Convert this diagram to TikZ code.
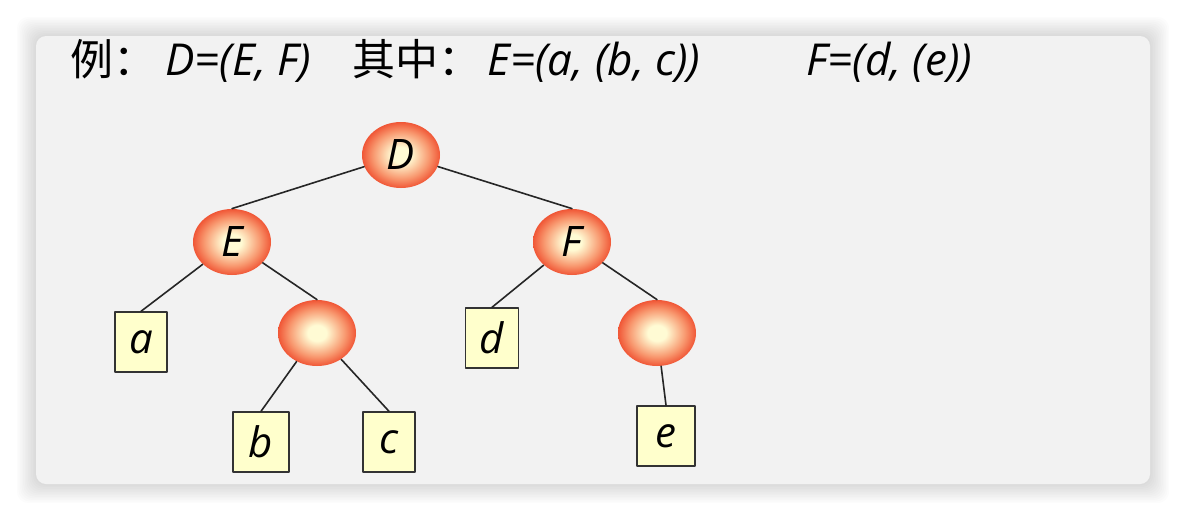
\documentclass[tikz,border=0pt]{standalone}
\usepackage{fontspec}
\setmainfont{Open Sans}
\newfontfamily\cjkfont{Noto Sans CJK SC}
\usetikzlibrary{shapes.geometric}
\definecolor{panelgray}{HTML}{F2F2F2}
\definecolor{ballout}{HTML}{EE4426}
\definecolor{ballmid}{HTML}{F8986F}
\definecolor{ballin}{HTML}{FFFBD4}
\definecolor{leafyellow}{HTML}{FFFFCC}
\pgfdeclareradialshading{treeball}{\pgfpoint{0bp}{0bp}}{color(0bp)=(ballin); color(6bp)=(ballin); color(18bp)=(ballmid); color(27bp)=(ballout); color(50bp)=(ballout)}

\begin{document}
\begin{tikzpicture}[x=0.5pt, y=-0.5pt, line join=round, line cap=round,
	font=\fontsize{21}{25}\selectfont\itshape,
	inner/.style={ellipse, shading=treeball, minimum width=39pt, minimum height=33pt, inner sep=0pt},
	leaf/.style={draw=black!80, fill=leafyellow, line width=0.7pt, minimum height=30pt, inner sep=0pt},
	edge/.style={black!85, line width=0.8pt},
	head/.style={anchor=base west, inner sep=0pt, font=\fontsize{22}{26}\selectfont\itshape}]
	\useasboundingbox (0,0) rectangle (1186,520);
	\foreach \s in {1,...,12} \fill[black, opacity=0.01, rounded corners=6pt] (36-\s*1.6, 36-\s*1.6) rectangle (1150+\s*1.6, 484+\s*1.6);
	\fill[panelgray, rounded corners=5pt] (36,36) rectangle (1150,484);
	% header line
	\node[head, font=\fontsize{21.5}{26}\selectfont\cjkfont] (ex) at (70,75) {例：};
	\node[head] (defD) at (165,75) {D=(E, F)};
	\node[head, font=\fontsize{21.5}{26}\selectfont\cjkfont] (where) at (352,75) {其中：};
	\node[head] (defE) at (487,75) {E=(a, (b, c))};
	\node[head] (defF) at (806,75) {F=(d, (e))};
	% tree
	\node[inner] (D) at (401,155) {D};
	\node[inner] (E) at (232,242) {E};
	\node[inner] (F) at (572,242) {F};
	\node[inner] (pbc) at (317,333) {};
	\node[inner] (pe) at (657,333) {};
	\node[leaf, minimum width=26pt] (a) at (141,342) {a};
	\node[leaf, minimum width=28pt] (b) at (261,442) {b};
	\node[leaf, minimum width=26pt] (c) at (389,442) {c};
	\node[leaf, minimum width=26.5pt] (d) at (492,338) {d};
	\node[leaf, minimum width=29pt] (e) at (666,436) {e};
	\foreach \p/\c in {D/E, D/F, E/a, E/pbc, pbc/b, pbc/c, F/d, F/pe, pe/e} \draw[edge] (\p) -- (\c.north);
\end{tikzpicture}
\end{document}
